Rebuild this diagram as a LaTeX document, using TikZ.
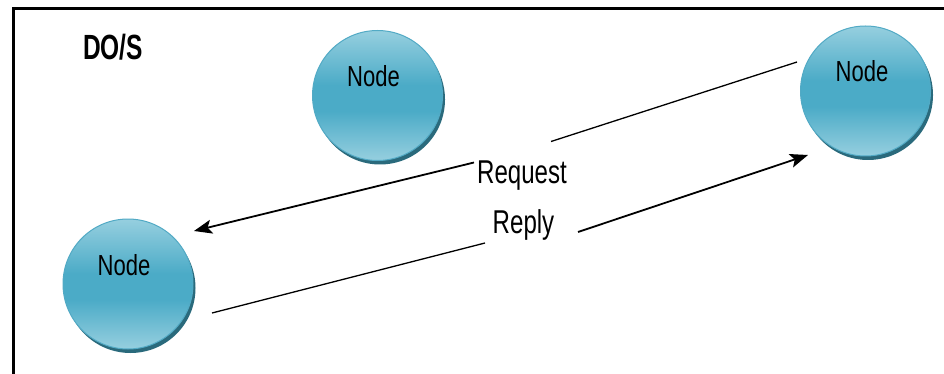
\documentclass[tikz,border=0pt]{standalone}
\usepackage{fontspec}
\setmainfont{Liberation Sans}[FakeStretch=0.75]
\newfontfamily\nodefont{Liberation Sans}[FakeStretch=0.76]
\newfontfamily\msgfont{Liberation Sans}[FakeStretch=0.73]
\newfontfamily\headfont{Liberation Sans}[FakeStretch=0.7]
\usetikzlibrary{arrows.meta,shadows}

\definecolor{ballLight}{HTML}{96CFDF}
\definecolor{ballMid}{HTML}{4BABC7}
\definecolor{ballEdge}{HTML}{52AAC5}
\definecolor{ballShadow}{HTML}{2A6A7C}

% glossy teal ball: light at top and bottom, darker band around the middle
\pgfdeclareverticalshading{ballshade}{100bp}{%
  color(0bp)=(ballLight); color(25bp)=(ballLight);
  color(44bp)=(ballMid); color(54bp)=(ballMid);
  color(75bp)=(ballLight); color(100bp)=(ballLight)}

\tikzset{
  ball/.style={circle, minimum size=130pt, inner sep=0pt,
    shading=ballshade, draw=ballEdge, line width=1pt,
    drop shadow={shadow xshift=2.5pt, shadow yshift=-4pt,
      fill=ballShadow, opacity=1}},
  balllabel/.style={anchor=base, font=\nodefont\fontsize{29}{31}\selectfont},
  msglabel/.style={anchor=base, font=\msgfont\fontsize{33}{36}\selectfont},
  thinline/.style={line width=1.3pt},
  arrowline/.style={line width=1.8pt,
    -{Stealth[length=18pt, width=14pt, inset=4pt]}}
}

\begin{document}
\begin{tikzpicture}[x=1pt, y=-1pt]
  \useasboundingbox (0,0) rectangle (944,374);
  \fill[white] (0,0) rectangle (944,374);

  % frame
  \draw[line width=2.5pt] (13.5,374) -- (13.5,8.5) -- (944,8.5);

  % title
  \node[anchor=base, font=\headfont\bfseries\fontsize{35}{37}\selectfont]
    (title) at (113,60) {DO/S};

  % the three nodes
  \node[ball] (topnode)   at (377.5,95.5) {};
  \node[ball] (leftnode)  at (128,284) {};
  \node[ball] (rightnode) at (865.5,91) {};

  \node[balllabel] (toplbl)   at (373.5,87)  {Node};
  \node[balllabel] (leftlbl)  at (124,275) {Node};
  \node[balllabel] (rightlbl) at (862,82)  {Node};

  % message labels
  \node[msglabel] (req) at (522,183) {Request};
  \node[msglabel] (rep) at (523.5,233) {Reply};

  % request: right node -> left node
  \coordinate (rqA) at (797,62);
  \coordinate (rqB) at (551,141.5);
  \coordinate (rqC) at (474,162.5);
  \coordinate (rqD) at (194,231);
  \draw[thinline] (rqA) -- (rqB);
  \draw[arrowline] (rqC) -- (rqD);

  % reply: left node -> right node
  \coordinate (rpA) at (212,313);
  \coordinate (rpB) at (485,243);
  \coordinate (rpC) at (578,232);
  \coordinate (rpD) at (808,155);
  \draw[thinline] (rpA) -- (rpB);
  \draw[arrowline] (rpC) -- (rpD);
\end{tikzpicture}
\end{document}
